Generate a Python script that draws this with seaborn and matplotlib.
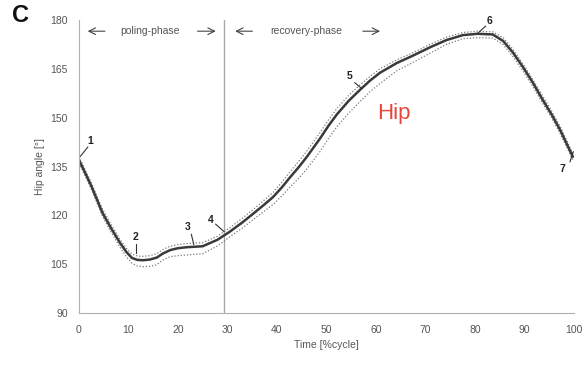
import matplotlib
matplotlib.use("Agg")
import matplotlib.pyplot as plt
import seaborn as sns
import pandas as pd

# ---- data ----
time_pct = [0, 1.2, 2.5, 3.7, 4.8, 6.5, 8.3, 9.6, 10.7, 11.8, 12.9, 14.3, 15.7,
            17.0, 18.4, 20.0, 21.8, 25.0, 28.0, 30.5, 33.0, 35.2, 37.2, 39.2,
            41.0, 42.6, 44.4, 46.1, 48.7, 50.4, 52.1, 54.5, 56.8, 58.8, 60.8,
            64.2, 67.5, 71.0, 74.3, 77.6, 80.5, 83.6, 85.7, 87.7, 89.7, 91.7,
            93.7, 95.5, 97.2, 99.8]
hip_mean = [137, 133.2, 129, 124.6, 120.6, 116, 111.5, 108.7, 106.9, 106.3, 106.2,
            106.4, 107.0, 108.3, 109.3, 109.9, 110.2, 110.5, 112.5, 115.0, 117.8,
            120.5, 123.0, 125.6, 128.6, 131.6, 134.8, 138.1, 143.6, 147.5, 151.0,
            155.2, 158.6, 161.4, 163.8, 166.8, 169.1, 171.7, 173.9, 175.4, 175.8,
            175.6, 173.6, 170.0, 165.6, 160.8, 155.5, 151.0, 146.3, 138]
hip_upper = [138, 134.2, 130, 125.6, 121.8, 117.2, 112.6, 109.8, 108.1, 107.5, 107.4,
             107.6, 108.2, 109.5, 110.5, 111.0, 111.3, 111.6, 113.6, 116.2, 119.1,
             121.8, 124.4, 127.0, 130.2, 133.3, 136.6, 139.9, 145.4, 149.3, 152.8,
             156.9, 160.1, 162.7, 165.0, 167.8, 170.0, 172.6, 174.8, 176.2, 176.6,
             176.4, 174.6, 171.0, 166.6, 161.8, 156.6, 152.1, 147.4, 139]
hip_lower = [136, 132.2, 128, 123.6, 119.5, 114.8, 110.2, 107.2, 105.3, 104.4, 104.2,
             104.3, 104.8, 106.3, 107.3, 107.6, 107.8, 108.2, 110.6, 113.4, 116.1,
             118.7, 121.0, 123.3, 126.0, 128.6, 131.4, 134.4, 139.6, 143.6, 147.2,
             151.4, 155.0, 158.0, 160.5, 164.4, 167.0, 169.9, 172.6, 174.3, 174.6,
             174.5, 172.5, 168.8, 164.4, 159.6, 154.4, 150.0, 145.2, 137]
phase_boundary = 29.3
event_labels = ["1", "2", "3", "4", "5", "6", "7"]
label_x = [2.3, 11.5, 22.0, 26.7, 54.7, 83.0, 97.6]
label_y = [142.8, 113.2, 116.3, 118.5, 162.9, 179.6, 134.2]
lead_x0 = [1.8, 11.5, 22.7, 27.6, 55.7, 82.2, 99.2]
lead_y0 = [141.0, 111.2, 114.2, 117.3, 160.8, 178.2, 136.4]
lead_x1 = [0.2, 11.5, 23.2, 29.3, 57.1, 80.6, 99.9]
lead_y1 = [138.0, 108.4, 111.0, 115.0, 159.0, 176.0, 139.6]
x_ticks = [0, 10, 20, 30, 40, 50, 60, 70, 80, 90, 100]
y_ticks = [90, 105, 120, 135, 150, 165, 180]

sns.set_theme(style="white")
plt.rcParams["font.family"] = ["Liberation Sans", "DejaVu Sans"]

fig = plt.figure(figsize=(5.85, 3.66), dpi=100)
ax = fig.add_axes([0.135, 0.145, 0.846, 0.80])

df = pd.DataFrame({"t": time_pct, "mean": hip_mean, "up": hip_upper, "lo": hip_lower})
sns.lineplot(data=df, x="t", y="up", ax=ax, color="#7a7a7a", lw=0.9,
             linestyle=(0, (1, 1.5)))
sns.lineplot(data=df, x="t", y="lo", ax=ax, color="#7a7a7a", lw=0.9,
             linestyle=(0, (1, 1.5)))
sns.lineplot(data=df, x="t", y="mean", ax=ax, color="#3a3a3a", lw=1.8)

ax.axvline(phase_boundary, color="#a8a8a8", lw=1.0, zorder=0)

ax.set_xlim(0, 100)
ax.set_ylim(90, 180)
ax.set_xticks(x_ticks)
ax.set_yticks(y_ticks)
ax.tick_params(axis="both", labelsize=7.5, colors="#555555", length=3,
               width=0.6, direction="out")
ax.tick_params(axis="y", pad=5)
ax.tick_params(axis="x", pad=6)
for s in ["top", "right"]:
    ax.spines[s].set_visible(False)
for s in ["left", "bottom"]:
    ax.spines[s].set_color("#b0b0b0")
    ax.spines[s].set_linewidth(0.8)
ax.set_xlabel("Time [%cycle]", fontsize=7.5, color="#555555", labelpad=3)
ax.set_ylabel("Hip angle [°]", fontsize=7.5, color="#555555", labelpad=4)

# phase arrows
ap = dict(arrowstyle="->", color="#444444", lw=0.8)
ax.annotate("", xy=(1.2, 176.6), xytext=(5.8, 176.6), arrowprops=ap)
ax.text(14.3, 176.6, "poling-phase", fontsize=7.5, color="#555555",
        ha="center", va="center")
ax.annotate("", xy=(28.2, 176.6), xytext=(23.4, 176.6), arrowprops=ap)
ax.annotate("", xy=(31.0, 176.6), xytext=(35.6, 176.6), arrowprops=ap)
ax.text(45.9, 176.6, "recovery-phase", fontsize=7.5, color="#555555",
        ha="center", va="center")
ax.annotate("", xy=(61.4, 176.6), xytext=(56.8, 176.6), arrowprops=ap)

# event labels with leader lines
for lab, lx, ly, x0, y0, x1, y1 in zip(event_labels, label_x, label_y,
                                       lead_x0, lead_y0, lead_x1, lead_y1):
    ax.text(lx, ly, lab, fontsize=7.5, fontweight="bold", color="#222222",
            ha="center", va="center")
    ax.plot([x0, x1], [y0, y1], color="#333333", lw=0.8, clip_on=False)

ax.text(60.2, 151.4, "Hip", fontsize=16, color="#e8453c", ha="left", va="center")
fig.text(0.02, 0.94, "C", fontsize=17, fontweight="bold", color="#111111",
         ha="left", va="baseline")

fig.savefig("out.png", dpi=100)
